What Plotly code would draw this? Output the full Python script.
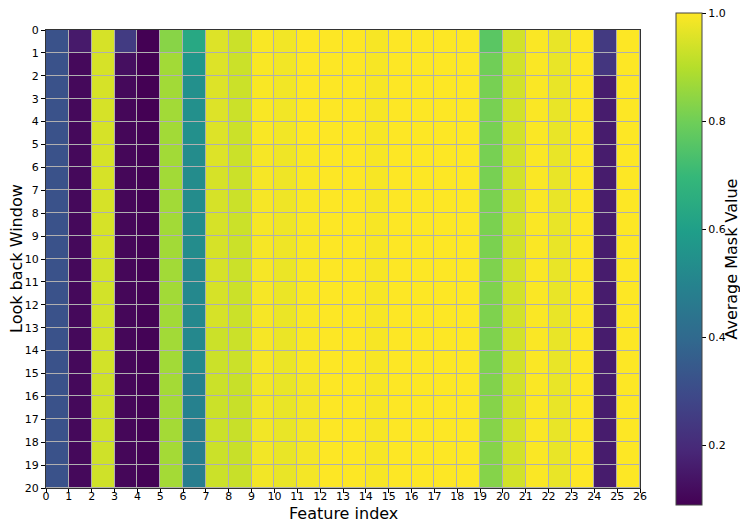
import plotly.graph_objects as go

# Feature / window tick labels (cell edges)
feature_ticks = list(range(27))
window_ticks = list(range(21))

# Average mask value per look-back row (0..19) and feature (0..25)
mask_row_00 = [0.32, 0.155, 0.945, 0.25, 0.09, 0.835, 0.635, 0.955, 0.93, 0.995, 0.985, 1.0, 1.0, 1.0, 0.992, 1.0, 1.0, 1.0, 1.0, 0.763, 0.94, 0.996, 0.972, 1.0, 0.245, 1.0]
mask_row_01 = [0.32, 0.11, 0.945, 0.125, 0.09, 0.872, 0.57, 0.955, 0.93, 0.995, 0.985, 1.0, 1.0, 1.0, 0.992, 1.0, 1.0, 1.0, 1.0, 0.80, 0.94, 0.996, 0.972, 1.0, 0.235, 1.0]
mask_row_02 = [0.32, 0.11, 0.945, 0.11, 0.09, 0.872, 0.545, 0.955, 0.93, 0.995, 0.985, 1.0, 1.0, 1.0, 0.992, 1.0, 1.0, 1.0, 1.0, 0.81, 0.94, 0.996, 0.972, 1.0, 0.16, 1.0]
mask_row_03 = [0.32, 0.11, 0.945, 0.105, 0.09, 0.872, 0.545, 0.955, 0.93, 0.995, 0.985, 1.0, 1.0, 1.0, 0.992, 1.0, 1.0, 1.0, 1.0, 0.81, 0.94, 0.996, 0.972, 1.0, 0.16, 1.0]
mask_row_04 = [0.32, 0.11, 0.945, 0.105, 0.095, 0.872, 0.545, 0.955, 0.93, 0.995, 0.985, 1.0, 1.0, 1.0, 0.992, 1.0, 1.0, 1.0, 1.0, 0.81, 0.94, 0.996, 0.972, 1.0, 0.16, 1.0]
mask_row_05 = [0.32, 0.11, 0.945, 0.105, 0.095, 0.872, 0.53, 0.955, 0.93, 0.99, 0.98, 0.995, 1.0, 1.0, 0.992, 1.0, 1.0, 1.0, 1.0, 0.81, 0.94, 0.996, 0.972, 1.0, 0.16, 1.0]
mask_row_06 = [0.32, 0.11, 0.945, 0.105, 0.095, 0.872, 0.53, 0.945, 0.93, 0.99, 0.98, 0.995, 1.0, 1.0, 0.992, 1.0, 1.0, 1.0, 1.0, 0.81, 0.94, 0.996, 0.972, 1.0, 0.16, 1.0]
mask_row_07 = [0.32, 0.11, 0.945, 0.105, 0.095, 0.872, 0.53, 0.945, 0.93, 0.99, 0.98, 0.995, 1.0, 1.0, 0.992, 1.0, 1.0, 1.0, 1.0, 0.815, 0.94, 0.996, 0.972, 1.0, 0.16, 1.0]
mask_row_08 = [0.32, 0.11, 0.945, 0.105, 0.095, 0.872, 0.53, 0.945, 0.93, 0.99, 0.98, 0.995, 1.0, 1.0, 0.992, 1.0, 1.0, 1.0, 1.0, 0.815, 0.94, 0.996, 0.972, 1.0, 0.16, 1.0]
mask_row_09 = [0.32, 0.11, 0.945, 0.105, 0.095, 0.872, 0.53, 0.945, 0.93, 0.99, 0.98, 0.995, 1.0, 1.0, 0.992, 1.0, 1.0, 1.0, 1.0, 0.815, 0.94, 0.996, 0.972, 1.0, 0.16, 1.0]
mask_row_10 = [0.32, 0.11, 0.94, 0.105, 0.095, 0.872, 0.515, 0.945, 0.93, 0.99, 0.975, 0.995, 1.0, 1.0, 0.992, 1.0, 1.0, 1.0, 1.0, 0.82, 0.94, 0.996, 0.972, 1.0, 0.16, 1.0]
mask_row_11 = [0.32, 0.11, 0.94, 0.105, 0.095, 0.872, 0.515, 0.945, 0.93, 0.99, 0.975, 0.995, 1.0, 1.0, 0.992, 1.0, 1.0, 1.0, 1.0, 0.82, 0.94, 0.996, 0.972, 1.0, 0.16, 1.0]
mask_row_12 = [0.32, 0.11, 0.94, 0.105, 0.095, 0.872, 0.515, 0.945, 0.93, 0.99, 0.975, 0.995, 1.0, 1.0, 0.992, 1.0, 1.0, 1.0, 1.0, 0.82, 0.94, 0.996, 0.972, 1.0, 0.16, 1.0]
mask_row_13 = [0.32, 0.11, 0.94, 0.105, 0.095, 0.872, 0.515, 0.93, 0.93, 0.99, 0.975, 0.995, 1.0, 1.0, 0.992, 1.0, 1.0, 1.0, 1.0, 0.82, 0.94, 0.996, 0.972, 1.0, 0.16, 1.0]
mask_row_14 = [0.32, 0.11, 0.94, 0.105, 0.095, 0.872, 0.515, 0.93, 0.93, 0.99, 0.975, 0.995, 1.0, 1.0, 0.992, 1.0, 1.0, 1.0, 1.0, 0.82, 0.94, 0.996, 0.972, 1.0, 0.16, 1.0]
mask_row_15 = [0.32, 0.11, 0.935, 0.105, 0.095, 0.875, 0.49, 0.93, 0.925, 0.985, 0.972, 0.988, 1.0, 1.0, 0.992, 1.0, 1.0, 1.0, 1.0, 0.825, 0.94, 0.996, 0.972, 1.0, 0.16, 1.0]
mask_row_16 = [0.32, 0.11, 0.935, 0.105, 0.095, 0.875, 0.49, 0.93, 0.925, 0.985, 0.972, 0.988, 1.0, 1.0, 0.992, 1.0, 1.0, 1.0, 1.0, 0.83, 0.94, 0.996, 0.972, 1.0, 0.16, 1.0]
mask_row_17 = [0.32, 0.11, 0.935, 0.105, 0.095, 0.875, 0.48, 0.93, 0.925, 0.985, 0.972, 0.988, 1.0, 1.0, 0.992, 1.0, 1.0, 1.0, 1.0, 0.83, 0.94, 0.996, 0.972, 1.0, 0.16, 1.0]
mask_row_18 = [0.32, 0.11, 0.935, 0.105, 0.095, 0.875, 0.48, 0.93, 0.925, 0.985, 0.972, 0.988, 1.0, 1.0, 0.992, 1.0, 1.0, 1.0, 1.0, 0.83, 0.94, 0.996, 0.972, 1.0, 0.16, 1.0]
mask_row_19 = [0.32, 0.11, 0.935, 0.105, 0.095, 0.875, 0.48, 0.93, 0.925, 0.985, 0.972, 0.988, 1.0, 1.0, 0.992, 1.0, 1.0, 1.0, 1.0, 0.83, 0.94, 0.996, 0.972, 1.0, 0.16, 1.0]

mask_values = [
    mask_row_00, mask_row_01, mask_row_02, mask_row_03, mask_row_04,
    mask_row_05, mask_row_06, mask_row_07, mask_row_08, mask_row_09,
    mask_row_10, mask_row_11, mask_row_12, mask_row_13, mask_row_14,
    mask_row_15, mask_row_16, mask_row_17, mask_row_18, mask_row_19,
]

colorbar_ticks = [0.2, 0.4, 0.6, 0.8, 1.0]

FONT = "DejaVu Sans"
GRID = "#b0b0b0"

fig = go.Figure(
    go.Heatmap(
        z=mask_values,
        x=feature_ticks,
        y=window_ticks,
        colorscale="Viridis",
        xgap=1,
        ygap=1,
        hoverinfo="skip",
        colorbar=dict(
            thickness=26,
            lenmode="pixels",
            len=492,
            x=1.0606,
            xanchor="left",
            xpad=0,
            y=0.5,
            yanchor="middle",
            ypad=0,
            outlinewidth=1,
            outlinecolor="#444444",
            tickvals=colorbar_ticks,
            ticktext=[f"{v:.1f}" for v in colorbar_ticks],
            ticks="outside",
            ticklen=4,
            tickcolor="black",
            tickfont=dict(family=FONT, size=11, color="black"),
        ),
    )
)

title_font = dict(family=FONT, size=16, color="black")
fig.add_annotation(text="Feature index", xref="paper", yref="paper",
                   x=0.5, y=-0.0546, xanchor="center", yanchor="middle",
                   showarrow=False, font=title_font)
fig.add_annotation(text="Look back Window", xref="paper", yref="paper",
                   x=-0.0505, y=0.5, xanchor="center", yanchor="middle",
                   textangle=-90, showarrow=False, font=title_font)
fig.add_annotation(text="Average Mask Value", xref="paper", yref="paper",
                   x=1.1525, y=0.5, xanchor="center", yanchor="middle",
                   textangle=-90, showarrow=False, font=title_font)

fig.update_layout(
    width=740,
    height=522,
    margin=dict(l=46, r=100, t=30, b=34, autoexpand=False),
    paper_bgcolor="white",
    plot_bgcolor=GRID,
    font=dict(family=FONT, color="black"),
    xaxis=dict(
        automargin=False,
        tickvals=feature_ticks,
        range=[feature_ticks[0], feature_ticks[-1]],
        ticks="outside",
        ticklen=4,
        tickcolor="black",
        tickfont=dict(family=FONT, size=11),
        ticklabelstandoff=-6,
        showgrid=False,
        zeroline=False,
        showline=True,
        linecolor="#333333",
        linewidth=1,
        mirror=True,
    ),
    yaxis=dict(
        automargin=False,
        tickvals=window_ticks,
        range=[window_ticks[-1], window_ticks[0]],
        ticks="outside",
        ticklen=4,
        tickcolor="black",
        tickfont=dict(family=FONT, size=11),
        showgrid=False,
        zeroline=False,
        showline=True,
        linecolor="#333333",
        linewidth=1,
        mirror=True,
    ),
)

fig.write_html(
    "out.html",
    config={"displayModeBar": False},
    post_script="document.body.style.margin='0';document.body.style.overflow='hidden';",
)
